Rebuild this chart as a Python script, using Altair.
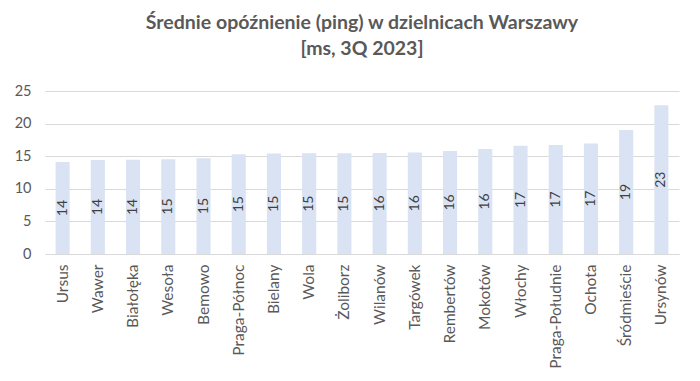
import altair as alt
import pandas as pd
import numpy as np

districts = ["Ursus", "Wawer", "Białołęka", "Wesoła", "Bemowo", "Praga-Północ", "Bielany", "Wola",
             "Żoliborz", "Wilanów", "Targówek", "Rembertów", "Mokotów", "Włochy", "Praga-Południe",
             "Ochota", "Śródmieście", "Ursynów"]
ping = [14.1, 14.4, 14.45, 14.55, 14.7, 15.3, 15.4, 15.45, 15.45, 15.5, 15.55, 15.8, 16.1, 16.6,
        16.7, 16.95, 19.0, 22.8]

df = pd.DataFrame({"district": districts, "ping": ping})
df["mid"] = df["ping"] / 2
df["label"] = np.floor(df["ping"] + 0.5).astype(int).astype(str)

FONT = "Lato"
GREY = "#595959"

xaxis = alt.Axis(labelAngle=-90, labelFontSize=15.5, labelColor=GREY, labelFont=FONT,
                 ticks=False, domainColor="#d9d9d9", labelPadding=10, labelAlign="right",
                 labelBaseline="middle")
yaxis = alt.Axis(values=[0, 5, 10, 15, 20, 25], labelFontSize=14.5, labelColor=GREY,
                 labelFont=FONT, ticks=False, domain=False, gridColor="#d9d9d9",
                 labelPadding=14, labelOverlap=False)
xscale = alt.Scale(paddingInner=0.6, paddingOuter=0.3)
yscale = alt.Scale(domain=[0, 25])

bars = alt.Chart(df).mark_bar(color="#dae3f3").encode(
    x=alt.X("district:N", sort=districts, title=None, scale=xscale, axis=xaxis),
    y=alt.Y("ping:Q", title=None, scale=yscale, axis=yaxis),
)

text = alt.Chart(df).mark_text(angle=270, fontSize=14, color="#404040", font=FONT,
                               baseline="middle", align="center").encode(
    x=alt.X("district:N", sort=districts, title=None, scale=xscale, axis=xaxis),
    y=alt.Y("mid:Q", title=None, scale=yscale, axis=yaxis),
    text="label:N",
)

chart = alt.layer(bars, text).properties(
    width=634, height=163,
    title=alt.TitleParams(["Średnie opóźnienie (ping) w dzielnicach Warszawy", "[ms, 3Q 2023]"],
                          fontSize=19.5, font=FONT, fontWeight="bold", color=GREY,
                          anchor="middle", lineHeight=26, offset=24),
    autosize=alt.AutoSizeParams(type="none"),
    padding={"left": 37, "top": 83, "right": 13, "bottom": 119},
).configure_view(stroke=None)

chart.save("out.html", embed_options={"renderer": "svg", "actions": False})
